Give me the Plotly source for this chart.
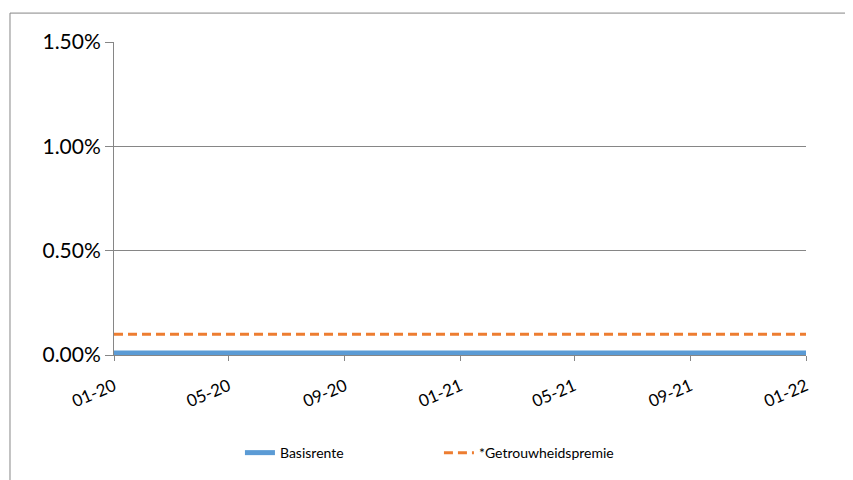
import plotly.graph_objects as go
import pandas as pd

months = pd.date_range("2020-01-01", "2022-01-01", freq="MS")
basisrente = [0.0001] * len(months)
getrouwheidspremie = [0.0010] * len(months)
series_names = ["Basisrente", "*Getrouwheidspremie"]
y_ticks = [0, 0.005, 0.010, 0.015]

fig = go.Figure()
fig.add_trace(go.Scatter(x=months, y=basisrente, mode="lines", name=series_names[0],
                         line=dict(color="#5B9BD5", width=5)))
fig.add_trace(go.Scatter(x=months, y=getrouwheidspremie, mode="lines", name=series_names[1],
                         line=dict(color="#ED7D31", width=3, dash="9px,5px")))

font_family = "Lato, 'Open Sans', sans-serif"
fig.update_layout(
    width=845, height=472,
    margin=dict(l=106, r=47, t=34, b=124),
    paper_bgcolor="white", plot_bgcolor="white",
    font=dict(family=font_family, color="#000000"),
    showlegend=True,
    legend=dict(orientation="h", x=0.182, xanchor="left", y=-0.309, yanchor="middle",
                font=dict(size=14), entrywidth=154, entrywidthmode="pixels"),
    xaxis=dict(type="date", range=[months[0], months[-1]], tickformat="%m-%y", dtick="M4",
               tick0="2020-01-01", tickangle=-23, tickfont=dict(size=17), ticklabelstandoff=9,
               showgrid=False, showline=True, linecolor="#868686", linewidth=1,
               ticks="outside", ticklen=5, tickcolor="#868686", zeroline=False),
    yaxis=dict(range=[0, 0.015], tickvals=y_ticks, tickformat=".2%", tickfont=dict(size=21),
               showgrid=True, gridcolor="#868686", gridwidth=1,
               showline=True, linecolor="#868686", linewidth=1,
               ticks="outside", ticklen=8, tickcolor="#868686", zeroline=False),
)
fig.add_shape(type="rect", xref="paper", yref="paper", x0=-0.1503, y0=-0.6, x1=1.3, y1=1.0924,
              line=dict(color="#868686", width=1), fillcolor="rgba(0,0,0,0)", layer="below")
fig.write_html("out.html")
